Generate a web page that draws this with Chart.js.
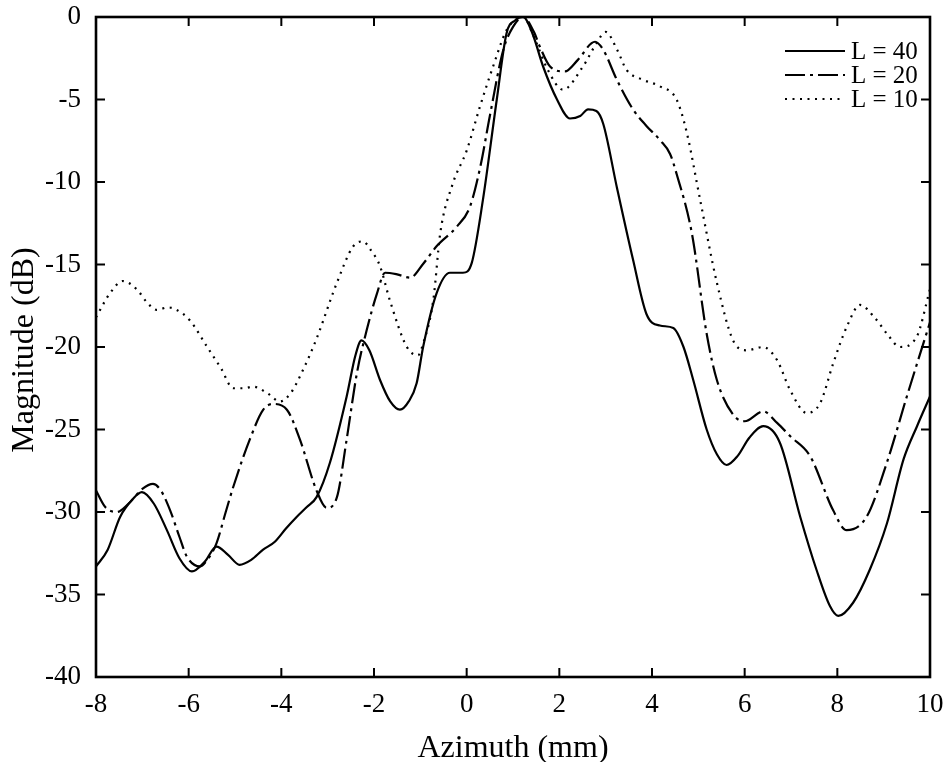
<!DOCTYPE html>
<html>
<head>
<meta charset="utf-8">
<script src="https://cdn.jsdelivr.net/npm/chart.js@4.4.0/dist/chart.umd.min.js"></script>
<style>
html,body{margin:0;padding:0;background:#fff;}
canvas{display:block;}
</style>
</head>
<body>
<canvas id="c" width="944" height="762"></canvas>
<script>
// ---- data ----
const seriesLabels = ["L = 40", "L = 20", "L = 10"];

const L40_x = [-8, -7.75, -7.48, -7.2, -7.01, -6.75, -6.47, -6.2, -5.93, -5.65, -5.4, -5.15, -4.9, -4.65, -4.4, -4.14, -3.9, -3.67, -3.45, -3.24, -2.95, -2.59, -2.4, -2.27, -2.1, -1.87, -1.65, -1.44, -1.25, -1.08, -0.94, -0.65, -0.36, -0.08, 0.11, 0.35, 0.65, 0.86, 1.05, 1.22, 1.42, 1.65, 1.95, 2.23, 2.45, 2.62, 2.8, 2.95, 3.24, 3.59, 3.88, 4.17, 4.46, 4.68, 4.89, 5.18, 5.4, 5.61, 5.85, 6.1, 6.4, 6.76, 7.2, 7.55, 7.84, 8.02, 8.34, 8.7, 9.07, 9.43, 9.72, 10];
const L40_y = [-33.3, -32.3, -30.3, -29.2, -28.8, -29.5, -31.1, -32.8, -33.6, -33.0, -32.1, -32.6, -33.2, -32.9, -32.3, -31.8, -31.0, -30.3, -29.7, -29.1, -27.0, -23.0, -20.5, -19.6, -20.2, -22.0, -23.3, -23.8, -23.3, -22.2, -20.0, -16.75, -15.5, -15.5, -14.9, -11.1, -5.0, -1.0, -0.2, 0, -1.0, -3.0, -5.0, -6.15, -6.0, -5.6, -5.7, -6.5, -10.3, -14.7, -18.0, -18.7, -18.85, -20.0, -22.0, -25.0, -26.5, -27.15, -26.6, -25.5, -24.8, -25.8, -30.3, -33.5, -35.7, -36.3, -35.5, -33.5, -30.7, -26.8, -24.8, -23.0];

const L20_x = [-8, -7.8, -7.55, -7.3, -7.0, -6.77, -6.6, -6.4, -6.2, -6.04, -5.76, -5.6, -5.4, -5.2, -5.04, -4.68, -4.39, -4.18, -3.88, -3.6, -3.24, -3.02, -2.8, -2.59, -2.37, -2.16, -1.94, -1.76, -1.5, -1.22, -0.95, -0.65, -0.21, 0.07, 0.3, 0.5, 0.79, 1.0, 1.22, 1.45, 1.58, 1.8, 2.12, 2.4, 2.77, 2.95, 3.24, 3.59, 3.88, 4.17, 4.39, 4.53, 4.86, 5.18, 5.4, 5.75, 6.0, 6.4, 6.7, 6.98, 7.41, 7.91, 8.2, 8.63, 9.07, 9.5, 10];
const L20_y = [-28.7, -29.7, -30.0, -29.5, -28.6, -28.3, -28.7, -29.9, -31.5, -32.7, -33.3, -32.9, -31.9, -30.0, -28.5, -25.6, -23.8, -23.45, -23.8, -25.6, -28.7, -29.75, -29.1, -25.6, -21.6, -19.0, -16.8, -15.5, -15.6, -15.8, -15.0, -13.9, -12.7, -11.5, -9.0, -6.0, -2.0, -0.6, 0, -0.9, -1.8, -3.0, -3.3, -2.6, -1.5, -2.0, -3.8, -5.6, -6.6, -7.45, -8.3, -9.5, -13.1, -19.2, -22.0, -24.1, -24.5, -23.9, -24.6, -25.4, -26.6, -29.9, -31.1, -30.3, -27.0, -23.0, -18.5];

const L10_x = [-8, -7.7, -7.42, -7.12, -6.9, -6.69, -6.45, -6.26, -5.97, -5.6, -5.3, -5.04, -4.8, -4.61, -4.3, -4.03, -3.8, -3.5, -3.24, -2.8, -2.45, -2.24, -2.05, -1.87, -1.66, -1.29, -1.05, -0.94, -0.72, -0.57, -0.3, 0.0, 0.29, 0.57, 0.86, 1.1, 1.22, 1.45, 1.75, 2.08, 2.51, 2.8, 3.0, 3.25, 3.45, 3.8, 4.17, 4.53, 4.75, 5.04, 5.4, 5.75, 6.04, 6.4, 6.7, 6.98, 7.34, 7.63, 7.91, 8.2, 8.49, 8.8, 9.1, 9.35, 9.71, 10];
const L10_y = [-18.2, -16.75, -16.0, -16.5, -17.3, -17.75, -17.6, -17.75, -18.4, -20.0, -21.3, -22.5, -22.5, -22.4, -22.8, -23.3, -22.8, -21.2, -19.5, -16.1, -13.9, -13.6, -14.2, -15.1, -17.15, -20.0, -20.5, -19.8, -17.15, -13.1, -10.1, -8.1, -5.4, -3.0, -0.8, -0.1, 0, -1.2, -3.2, -4.4, -3.0, -1.6, -0.9, -2.0, -3.2, -3.8, -4.2, -5.0, -7.0, -11.1, -16.1, -19.6, -20.2, -20.0, -20.8, -22.6, -24.0, -23.4, -21.0, -18.8, -17.45, -18.2, -19.3, -20.0, -19.4, -16.5];

const xTicks = [-8, -6, -4, -2, 0, 2, 4, 6, 8, 10];
const yTicks = [0, -5, -10, -15, -20, -25, -30, -35, -40];
const xTitle = "Azimuth (mm)";
const yTitle = "Magnitude (dB)";

const FONT = '"Liberation Serif", "Times New Roman", serif';

function pts(xs, ys){ return xs.map((x,i)=>({x:x, y:ys[i]})); }

const dashes = [[], [20, 5, 3, 5], [2, 5.5]];
const allX = [L40_x, L20_x, L10_x];
const allY = [L40_y, L20_y, L10_y];

const datasets = seriesLabels.map((lab,i)=>({
  label: lab,
  data: pts(allX[i], allY[i]),
  borderColor: '#000',
  borderWidth: 2.2,
  borderDash: dashes[i],
  pointRadius: 0,
  fill: false,
  tension: 0.4,
  cubicInterpolationMode: 'monotone'
}));

const framePlugin = {
  id: 'frame',
  afterDatasetsDraw(chart){
    const ctx = chart.ctx, a = chart.chartArea;
    const xs = chart.scales.x, ys = chart.scales.y;
    ctx.save();
    ctx.setLineDash([]);
    ctx.strokeStyle = '#000';
    ctx.lineWidth = 2;
    const tl = 9;
    ctx.beginPath();
    xTicks.forEach(v=>{
      const p = xs.getPixelForValue(v);
      ctx.moveTo(p, a.bottom); ctx.lineTo(p, a.bottom - tl);
      ctx.moveTo(p, a.top); ctx.lineTo(p, a.top + tl);
    });
    yTicks.forEach(v=>{
      const p = ys.getPixelForValue(v);
      ctx.moveTo(a.left, p); ctx.lineTo(a.left + tl, p);
      ctx.moveTo(a.right, p); ctx.lineTo(a.right - tl, p);
    });
    ctx.stroke();
    ctx.lineWidth = 2.6;
    ctx.strokeRect(a.left, a.top, a.right - a.left, a.bottom - a.top);
    ctx.restore();
  },
  afterDraw(chart){
    const ctx = chart.ctx, a = chart.chartArea;
    ctx.save();
    ctx.fillStyle = '#000';
    // axis titles
    ctx.font = '32px ' + FONT;
    ctx.textAlign = 'center';
    ctx.textBaseline = 'alphabetic';
    ctx.fillText(xTitle, (a.left + a.right)/2, 757);
    ctx.translate(33, (a.top + a.bottom)/2 + 3);
    ctx.rotate(-Math.PI/2);
    ctx.fillText(yTitle, 0, 0);
    ctx.restore();
    // legend
    ctx.save();
    ctx.strokeStyle = '#000';
    ctx.fillStyle = '#000';
    ctx.font = '25px ' + FONT;
    ctx.textAlign = 'left';
    ctx.textBaseline = 'middle';
    const rows = [51, 75, 99];
    chart.data.datasets.forEach((ds,i)=>{
      ctx.lineWidth = 2.2;
      ctx.setLineDash(ds.borderDash);
      ctx.beginPath();
      ctx.moveTo(785, rows[i]); ctx.lineTo(845, rows[i]);
      ctx.stroke();
      ctx.setLineDash([]);
      ctx.fillText(ds.label, 851, rows[i] + 1);
    });
    ctx.restore();
  }
};

function zeroPad(s){ s.paddingTop = 0; s.paddingBottom = 0; s.paddingLeft = 0; s.paddingRight = 0; }

new Chart(document.getElementById('c'), {
  type: 'line',
  data: { datasets: datasets },
  options: {
    responsive: false,
    animation: false,
    layout: { padding: { left: 0, right: 14, top: 17, bottom: 0 } },
    plugins: { legend: { display: false }, tooltip: { enabled: false } },
    scales: {
      x: {
        type: 'linear', min: -8, max: 10,
        afterBuildTicks(s){ s.ticks = xTicks.map(v=>({value:v})); },
        afterFit(s){ s.height = 85; zeroPad(s); },
        grid: { display: false },
        border: { display: false },
        ticks: { color: '#000', font: { family: FONT, size: 27 }, padding: 4, maxRotation: 0, autoSkip: false }
      },
      y: {
        type: 'linear', min: -40, max: 0,
        afterBuildTicks(s){ s.ticks = yTicks.map(v=>({value:v})); },
        afterFit(s){ s.width = 96; zeroPad(s); },
        grid: { display: false },
        border: { display: false },
        ticks: { color: '#000', font: { family: FONT, size: 27 }, padding: 7, autoSkip: false }
      }
    }
  },
  plugins: [framePlugin]
});
</script>
</body>
</html>
